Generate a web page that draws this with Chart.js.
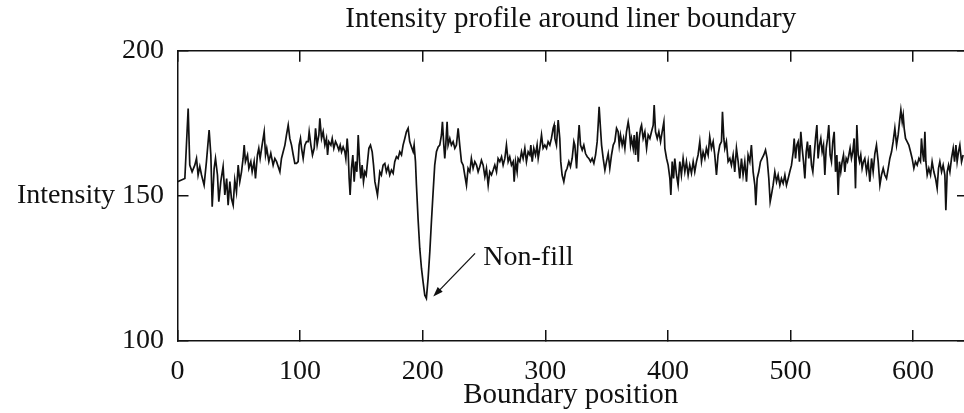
<!DOCTYPE html>
<html>
<head>
<meta charset="utf-8">
<script src="https://cdn.jsdelivr.net/npm/chart.js@4"></script>
<style>
  html, body { margin: 0; padding: 0; background: #ffffff; }
  canvas { display: block; }
</style>
</head>
<body>
<canvas id="chart" width="964" height="413"></canvas>
<script>
const chartTitle = 'Intensity profile around liner boundary';
const xAxisTitle = 'Boundary position';
const yAxisTitle = 'Intensity';
const annotationText = 'Non-fill';
const xTickValues = [0, 100, 200, 300, 400, 500, 600];
const yTickValues = [100, 150, 200];

const positions = [
  0, 3.2, 6.0, 8.7, 10.0, 11.9, 14.1, 15.5, 16.8, 18.2,
  19.6, 21.7, 23.6, 25.8, 27.2, 28.3, 29.9, 31.0, 32.6, 33.7,
  35.3, 37.2, 38.6, 40.1, 41.3, 42.7, 44.0, 45.4, 46.7, 48.1,
  49.5, 50.8, 52.2, 53.5, 54.4, 55.4, 57.1, 58.2, 59.8, 60.9,
  62.5, 63.6, 65.2, 66.3, 67.4, 69.0, 70.7, 71.8, 72.8, 74.5,
  76.1, 78.0, 79.4,
  80.8, 82.1, 83.5, 84.8, 86.2, 87.6, 88.9, 90.3, 91.6, 93.0,
  94.4, 95.7, 97.1, 98.4, 99.2, 100.3, 101.2, 102.5, 103.9, 105.2,
  106.6, 107.4, 108.8, 110.1, 111.5, 112.6, 113.9, 115.3, 116.1, 117.5,
  118.8, 120.2, 121.5, 122.4, 123.4, 125.1, 126.2, 127.5, 128.9, 130.2,
  131.6, 132.7, 133.8, 135.1, 136.5, 137.3, 138.4, 139.2, 140.0, 140.8,
  141.9, 143.0, 144.1, 145.2, 146.3, 147.4, 148.5, 149.5, 150.6, 151.7,
  152.8, 153.9, 155.0, 156.1, 157.4, 158.8, 159.9, 161.0,
  163.1, 165.0, 166.3, 167.7, 169.1, 170.4, 171.8, 173.1, 174.5, 175.9,
  177.2, 178.6, 179.9, 181.3, 182.7, 184.0, 185.4, 186.7, 188.1, 189.4,
  190.8, 192.2, 193.0, 194.1, 194.9, 196.2, 197.6, 199.0, 200.3, 201.7,
  203.0, 204.4, 205.8, 207.1, 208.5, 209.8, 211.2, 212.6, 213.9, 215.3,
  216.1, 217.2, 218.0, 218.8, 219.9, 220.7, 222.1, 223.4, 224.8, 226.2,
  227.5, 228.9, 230.2, 231.6, 233.0, 234.3, 235.7, 237.0, 238.4, 239.7,
  241.1,
  242.5, 243.9, 245.2, 246.6, 247.9, 249.3, 250.7, 252.0, 253.4, 254.7,
  256.1, 257.5, 258.8, 260.2, 261.5, 262.9, 264.3, 265.6, 267.0, 268.3,
  269.7, 271.0, 272.4, 273.8, 274.6, 275.7, 277.0, 277.8, 279.2, 280.6,
  281.9, 283.3, 284.6, 286.0, 287.4, 288.2, 289.3, 290.6, 292.0, 293.3,
  294.2, 295.5, 296.9, 298.2, 299.6, 301.0, 302.3, 303.7, 305.0, 306.4,
  307.2, 307.8, 309.1, 310.5, 311.8, 312.6, 313.7, 315.1, 316.5, 317.8,
  319.2, 320.5, 321.9, 323.3,
  324.1, 325.5, 326.8, 327.6, 328.7, 330.1, 331.4, 332.8, 334.2, 335.5,
  336.9, 338.2, 339.6, 341.0, 342.3, 343.1, 343.9, 345.0, 345.9, 347.2,
  348.6, 349.9, 351.3, 352.6, 354.0, 355.4, 356.7, 358.1, 359.4, 360.3,
  361.3, 362.7, 363.8, 364.9, 366.2, 367.6, 368.4, 369.5, 370.3, 371.7,
  372.5, 373.6, 374.7, 375.8, 376.6, 377.7, 378.5, 379.8, 381.2, 382.6,
  383.9, 385.3, 386.6, 388.0, 388.8, 389.9, 391.3, 392.6, 394.0, 395.3,
  396.7, 397.5, 398.9, 400.2, 401.6, 402.4, 403.5, 404.6,
  405.6, 407.0, 408.3, 409.7, 411.0, 412.4, 413.8, 415.1, 416.5, 417.8,
  419.2, 420.6, 421.9, 423.3, 424.6, 426.0, 427.4, 428.7, 430.1, 431.4,
  432.8, 434.1, 435.5, 436.9, 438.2, 439.6, 440.9, 442.3, 443.7, 444.5,
  445.6, 446.4, 447.7, 449.1, 450.5, 451.8, 453.2, 454.5, 455.9, 457.3,
  458.6, 460.0, 461.3, 462.7, 464.1, 465.4, 466.8, 468.1, 469.5, 470.9,
  471.7, 472.8, 474.1, 475.5, 476.8, 478.2, 479.6, 480.9, 482.3, 483.4,
  484.4, 485.8,
  487.2, 488.6, 489.9, 491.3, 492.6, 494.0, 495.4, 496.7, 498.1, 499.4,
  500.8, 502.2, 503.0, 504.1, 505.1, 506.2, 507.3, 508.4, 509.5, 510.6,
  511.7, 512.8, 513.8, 514.9, 516.0, 517.1, 518.2, 519.3, 520.4, 521.5,
  522.5, 523.6, 524.7, 525.8, 526.9, 528.0, 529.1, 530.2, 531.2, 532.3,
  533.4, 534.5, 535.6, 536.7, 537.8, 538.9, 539.9, 541.0, 542.1, 543.2,
  544.3, 545.4, 546.5, 547.6, 548.6, 549.7, 550.8, 551.9, 553.0, 554.1,
  555.2, 556.3, 557.3, 558.4, 559.5, 560.6, 562.0, 563.3, 564.7,
  566.1, 567.4, 568.8, 570.1, 571.5, 572.9, 574.2, 575.6, 576.9, 578.3,
  579.7, 581.0, 582.4, 583.7, 585.1, 586.5, 587.8, 589.2, 590.0, 591.1,
  591.9, 592.7, 593.8, 595.1, 596.5, 597.9, 599.2, 600.6, 601.9, 603.3,
  604.7, 606.0, 606.8, 607.7, 608.7, 609.6, 610.4, 611.5, 612.8, 614.2,
  615.5, 616.9, 618.3, 619.6, 620.7, 621.8, 623.2, 624.5, 625.9, 626.7,
  627.8, 628.9, 630.0, 631.3, 632.7, 633.8, 634.9, 635.9, 637.0, 638.1,
  639.5, 640.8
];

const intensity = [
  154.9, 155.5, 156.0, 180.1, 160.6, 158.3, 160.6, 162.9, 157.2, 160.1,
  157.2, 153.7, 161.8, 172.7, 164.1, 146.3, 159.5, 162.9, 157.2, 148.0,
  154.9, 160.1, 150.3, 156.0, 146.8, 154.9, 149.1, 146.8, 155.5, 151.4,
  160.6, 154.9, 158.3, 162.9, 167.5, 161.8, 164.1, 159.5, 161.8, 158.3,
  161.8, 156.0, 164.1, 166.4, 162.9, 167.5, 172.1, 164.1, 166.4, 161.8,
  164.7, 160.6, 162.9,
  161.8, 160.1, 158.3, 162.9, 165.2, 167.5, 171.0, 174.4, 169.8, 167.5,
  164.1, 161.2, 161.2, 161.8, 167.5, 169.8, 166.4, 162.9, 167.5, 168.7,
  168.7, 172.1, 167.5, 164.1, 166.4, 173.3, 167.5, 171.0, 176.7, 169.8,
  172.1, 167.5, 169.8, 164.1, 168.7, 167.5, 169.8, 166.4, 168.7, 167.5,
  165.8, 167.5, 165.2, 166.9, 165.2, 162.9, 169.8, 165.2, 156.0, 150.3,
  159.5, 164.1, 154.9, 161.8, 158.3, 171.0, 161.8, 156.0, 160.6, 154.9,
  158.3, 157.2, 161.8, 166.4, 167.5, 165.2, 160.6, 154.9,
  150.3, 158.3, 157.2, 160.6, 161.2, 158.3, 160.1, 157.2, 158.9, 157.8,
  161.8, 163.5, 162.9, 165.2, 164.1, 167.5, 169.8, 172.1, 173.3, 168.7,
  166.9, 165.2, 167.5, 161.8, 153.7, 142.2, 131.9, 125.0, 120.4, 115.8,
  114.7, 121.6, 130.8, 141.1, 151.4, 160.6, 165.2, 166.9, 167.5, 171.0,
  175.5, 167.5, 162.9, 167.5, 175.5, 167.5, 169.8, 167.5, 168.7, 166.4,
  167.5, 173.3, 167.5, 161.8, 160.6, 157.2, 153.7, 159.5, 158.3, 162.9,
  159.5,
  161.8, 160.6, 158.3, 160.1, 162.3, 160.6, 156.6, 159.5, 153.7, 158.3,
  157.2, 158.9, 160.6, 158.3, 162.9, 161.8, 163.5, 160.6, 162.9, 167.5,
  161.8, 163.5, 160.6, 161.8, 154.9, 161.8, 158.3, 162.9, 161.8, 165.2,
  162.9, 166.4, 161.8, 165.2, 164.1, 167.5, 161.8, 166.4, 164.1, 167.5,
  162.9, 166.4, 171.0, 166.4, 167.5, 166.4, 168.7, 167.5, 169.8, 173.3,
  174.4, 169.8, 167.5, 176.1, 169.8, 161.8, 157.2, 154.9, 158.3, 159.5,
  161.8, 160.1, 162.9, 168.7,
  167.5, 159.5, 169.8, 174.4, 167.5, 165.8, 167.5, 164.6, 163.5, 162.9,
  161.8, 162.9, 161.2, 164.1, 168.7, 174.4, 180.7, 173.3, 167.5, 162.9,
  158.9, 161.8, 164.6, 159.5, 164.1, 167.5, 168.7, 173.3, 172.1, 167.5,
  171.0, 167.5, 169.8, 166.4, 172.1, 175.5, 173.3, 167.5, 169.8, 166.4,
  171.0, 164.1, 172.1, 161.8, 169.8, 173.3, 174.4, 169.8, 172.1, 166.4,
  171.0, 169.8, 172.1, 174.4, 181.3, 172.1, 169.8, 172.1, 168.7, 172.1,
  175.5, 166.4, 162.9, 160.6, 156.0, 150.3, 161.8, 156.0,
  162.9, 157.2, 153.7, 161.8, 157.2, 162.9, 158.3, 161.8, 157.2, 160.6,
  157.8, 161.8, 158.3, 161.8, 164.1, 168.7, 161.8, 165.2, 162.9, 166.4,
  164.1, 170.4, 166.4, 168.7, 164.1, 157.2, 164.1, 167.5, 168.7, 179.0,
  169.8, 166.4, 168.7, 161.8, 162.9, 160.6, 164.1, 158.3, 166.4, 161.8,
  156.0, 162.9, 157.2, 161.8, 154.9, 164.1, 161.8, 167.5, 158.3, 153.7,
  146.8, 156.0, 158.3, 161.8, 162.9, 164.1, 165.8, 162.9, 156.0, 148.0,
  150.3, 153.7,
  158.3, 154.9, 157.2, 153.7, 156.0, 154.3, 157.2, 153.7, 156.0, 158.3,
  160.6, 165.2, 169.8, 162.9, 167.5, 168.7, 161.8, 172.1, 166.4, 161.8,
  156.0, 165.2, 168.7, 162.9, 167.5, 160.6, 158.3, 164.1, 169.8, 174.4,
  162.9, 167.5, 169.8, 165.2, 167.5, 157.2, 166.4, 169.8, 174.4, 164.1,
  161.8, 168.7, 172.1, 158.3, 164.1, 150.3, 161.8, 158.3, 161.8, 164.1,
  158.3, 162.9, 161.8, 164.1, 166.4, 162.9, 165.2, 169.8, 152.6, 174.4,
  164.1, 161.8, 164.1, 159.5, 161.8, 162.9, 158.3, 161.8, 154.9,
  162.9, 158.3, 164.6, 167.5, 161.8, 153.7, 157.2, 159.5, 157.2, 156.0,
  159.5, 162.9, 165.2, 168.7, 173.3, 167.5, 171.0, 176.7, 179.6, 175.5,
  177.8, 173.3, 169.8, 168.7, 167.5, 165.2, 162.9, 159.5, 161.8, 160.6,
  162.9, 161.8, 169.8, 165.2, 161.8, 172.1, 161.8, 157.2, 159.5, 157.2,
  161.8, 158.3, 156.0, 152.6, 159.5, 161.8, 158.3, 160.6, 157.2, 145.1,
  158.3, 160.6, 158.3, 162.9, 166.4, 161.8, 167.5, 161.8, 165.2, 167.5,
  161.8, 164.1
];

// annotation anchors, in data units
const arrowTip = { x: 208.6, y: 115.3 };
const arrowTail = { x: 242.7, y: 130.2 };
const labelAnchor = { x: 249.4, y: 126.2 };

const INK = '#111111';
const FONT_FAMILY = '"Liberation Serif", "Times New Roman", serif';
const FONT_SIZE = 28;
const TITLE_SIZE = 29;

Chart.defaults.font.family = FONT_FAMILY;
Chart.defaults.font.size = FONT_SIZE;
Chart.defaults.color = INK;

const n = Math.min(positions.length, intensity.length);
const points = [];
for (let i = 0; i < n; i++) points.push({ x: positions[i], y: intensity[i] });

const nonFillAnnotation = {
  id: 'nonFillAnnotation',
  afterDatasetsDraw(chart) {
    const { ctx, scales } = chart;
    const xs = scales.x, ys = scales.y;
    const hx = xs.getPixelForValue(arrowTip.x), hy = ys.getPixelForValue(arrowTip.y);
    const tx = xs.getPixelForValue(arrowTail.x), ty = ys.getPixelForValue(arrowTail.y);
    const ang = Math.atan2(hy - ty, hx - tx);
    const L = 10, W = 3.5;
    ctx.save();
    ctx.strokeStyle = INK;
    ctx.fillStyle = INK;
    ctx.lineWidth = 1.3;
    ctx.beginPath();
    ctx.moveTo(tx, ty);
    ctx.lineTo(hx - (L - 2) * Math.cos(ang), hy - (L - 2) * Math.sin(ang));
    ctx.stroke();
    ctx.beginPath();
    ctx.moveTo(hx, hy);
    ctx.lineTo(hx - L * Math.cos(ang) + W * Math.sin(ang), hy - L * Math.sin(ang) - W * Math.cos(ang));
    ctx.lineTo(hx - L * Math.cos(ang) - W * Math.sin(ang), hy - L * Math.sin(ang) + W * Math.cos(ang));
    ctx.closePath();
    ctx.fill();
    ctx.font = FONT_SIZE + 'px ' + FONT_FAMILY;
    ctx.textAlign = 'left';
    ctx.textBaseline = 'alphabetic';
    ctx.fillText(annotationText, xs.getPixelForValue(labelAnchor.x), ys.getPixelForValue(labelAnchor.y));
    ctx.restore();
  }
};

const frameGrid = { drawOnChartArea: false, drawTicks: true, tickLength: -11, color: INK, lineWidth: 1.5 };
const frameBorder = { display: true, color: INK, width: 1.5 };
const X_MIN = 0, X_MAX = 641.5, Y_MIN = 100, Y_MAX = 200;

new Chart(document.getElementById('chart'), {
  type: 'line',
  data: {
    datasets: [{
      label: 'Intensity',
      data: points,
      borderColor: INK,
      borderWidth: 1.7,
      pointRadius: 0,
      tension: 0,
      fill: false
    }]
  },
  options: {
    responsive: false,
    devicePixelRatio: 1,
    animation: false,
    events: [],
    layout: { padding: 0 },
    plugins: {
      legend: { display: false },
      tooltip: { enabled: false },
      title: {
        display: true,
        text: chartTitle,
        fullSize: false,
        color: INK,
        font: { size: TITLE_SIZE, weight: 'normal' },
        padding: { top: 2.1, bottom: 13.9 }
      }
    },
    scales: {
      x: {
        type: 'linear', position: 'bottom', min: X_MIN, max: X_MAX,
        afterBuildTicks: s => { s.ticks = xTickValues.map(v => ({ value: v })); },
        afterFit: s => { s.height = 72; },
        grid: frameGrid, border: frameBorder,
        ticks: { padding: 24.7, maxRotation: 0, autoSkip: false, color: INK, font: { size: FONT_SIZE } },
        title: { display: true, text: xAxisTitle, color: INK, font: { size: TITLE_SIZE }, padding: { top: 0, bottom: 0.4 } }
      },
      xTop: {
        type: 'linear', position: 'top', min: X_MIN, max: X_MAX,
        afterBuildTicks: s => { s.ticks = xTickValues.map(v => ({ value: v })); },
        afterFit: s => { s.height = 0; },
        grid: frameGrid, border: frameBorder,
        ticks: { display: false }
      },
      y: {
        type: 'linear', position: 'left', min: Y_MIN, max: Y_MAX,
        afterBuildTicks: s => { s.ticks = yTickValues.map(v => ({ value: v })); },
        afterFit: s => { s.width = 177.5; },
        grid: frameGrid, border: frameBorder,
        ticks: {
          padding: 24.5, color: INK, font: { size: FONT_SIZE },
          callback: v => (v === 150 ? yAxisTitle + ' ' + v : String(v))
        }
      },
      yRight: {
        type: 'linear', position: 'right', min: Y_MIN, max: Y_MAX,
        afterBuildTicks: s => { s.ticks = yTickValues.map(v => ({ value: v })); },
        afterFit: s => { s.width = 0; },
        grid: { drawOnChartArea: false, drawTicks: true, tickLength: -7, color: INK, lineWidth: 1.5 },
        border: { display: false },
        ticks: { display: false }
      }
    }
  },
  plugins: [nonFillAnnotation]
});
</script>
</body>
</html>
